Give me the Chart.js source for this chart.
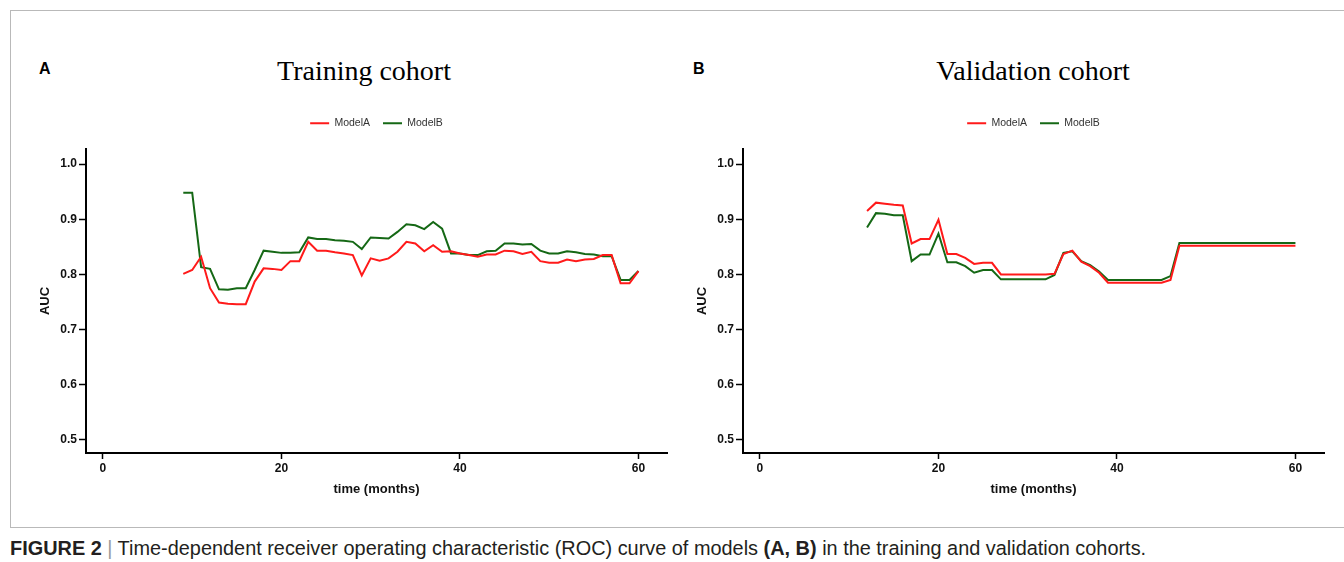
<!DOCTYPE html>
<html>
<head>
<meta charset="utf-8">
<script src="https://cdn.jsdelivr.net/npm/chart.js@4.4.0/dist/chart.umd.min.js"></script>
<style>
  body { margin: 0; width: 1344px; height: 562px; background: #fff; position: relative; overflow: hidden;
         font-family: "Liberation Sans", Arial, sans-serif; }
  .frame { position: absolute; left: 10px; top: 10px; width: 1340px; height: 516px;
           border: 1px solid #b9b9b9; border-right: none; }
  .letter { position: absolute; top: 61px; font: bold 16px/16px "Liberation Sans", Arial, sans-serif; color: #000; }
  .ptitle { position: absolute; top: 57px; width: 400px; text-align: center;
            font: 28px/28px "Liberation Serif", "Times New Roman", serif; color: #000; }
  .box { position: absolute; top: 40px; width: 680px; height: 470px; }
  .caption { position: absolute; left: 10px; top: 538px; font-size: 19.9px; line-height: 20px; color: #231f20; white-space: nowrap; }
  .caption .bar { color: #9a9a9a; }
</style>
</head>
<body>
<div class="frame"></div>
<div class="letter" style="left:39px">A</div>
<div class="letter" style="left:693px">B</div>
<div class="ptitle" style="left:164px">Training cohort</div>
<div class="ptitle" style="left:833px">Validation cohort</div>
<div class="box" style="left:0px"><canvas id="trainChart" width="680" height="470"></canvas></div>
<div class="box" style="left:657px"><canvas id="validChart" width="680" height="470"></canvas></div>
<div class="caption"><b>FIGURE 2</b> <span class="bar">|</span> Time-dependent receiver operating characteristic (ROC) curve of models <b>(A, B)</b> in the training and validation cohorts.</div>

<script>
// --- DATA ---
const seriesNames = ['ModelA', 'ModelB'];
const colorA = '#ff1a1a';
const colorB = '#156815';

// training cohort, months 9..60
const trainTimes = [9, 10, 11, 12, 13, 14, 15, 16, 17, 18, 19, 20, 21, 22, 23, 24, 25, 26, 27, 28,
  29, 30, 31, 32, 33, 34, 35, 36, 37, 38, 39, 40, 41, 42, 43, 44, 45, 46, 47, 48,
  49, 50, 51, 52, 53, 54, 55, 56, 57, 58, 59, 60];
const trainA = [0.801, 0.808, 0.832, 0.775, 0.749, 0.747, 0.746, 0.746, 0.787, 0.811, 0.810, 0.808, 0.824, 0.824, 0.859, 0.843, 0.843, 0.840, 0.838, 0.835,
  0.798, 0.829, 0.825, 0.829, 0.841, 0.859, 0.856, 0.842, 0.853, 0.841, 0.842, 0.838, 0.835, 0.832, 0.836, 0.836, 0.843, 0.842, 0.837, 0.841,
  0.824, 0.821, 0.821, 0.827, 0.824, 0.827, 0.828, 0.835, 0.835, 0.784, 0.784, 0.806];
const trainB = [0.948, 0.948, 0.813, 0.810, 0.773, 0.772, 0.775, 0.775, 0.808, 0.843, 0.841, 0.839, 0.839, 0.840, 0.867, 0.864, 0.864, 0.862, 0.861, 0.859,
  0.846, 0.867, 0.866, 0.865, 0.877, 0.891, 0.889, 0.882, 0.895, 0.883, 0.838, 0.838, 0.835, 0.835, 0.842, 0.843, 0.856, 0.856, 0.854, 0.855,
  0.843, 0.838, 0.838, 0.842, 0.840, 0.837, 0.836, 0.833, 0.833, 0.790, 0.790, 0.806];

// validation cohort, months 12..60
const validTimes = [12, 13, 14, 15, 16, 17, 18, 19, 20, 21, 22, 23, 24, 25, 26, 27, 28, 29, 30, 31,
  32, 33, 34, 35, 36, 37, 38, 39, 40, 41, 42, 43, 44, 45, 46, 47, 48, 49, 50, 51,
  52, 53, 54, 55, 56, 57, 58, 59, 60];
const validA = [0.915, 0.930, 0.928, 0.926, 0.925, 0.856, 0.864, 0.864, 0.899, 0.837, 0.837, 0.830, 0.819, 0.821, 0.821, 0.800, 0.800, 0.800, 0.800, 0.800,
  0.800, 0.801, 0.837, 0.843, 0.823, 0.815, 0.803, 0.785, 0.785, 0.785, 0.785, 0.785, 0.785, 0.785, 0.790, 0.852, 0.852, 0.852, 0.852, 0.852,
  0.852, 0.852, 0.852, 0.852, 0.852, 0.852, 0.852, 0.852, 0.852];
const validB = [0.885, 0.911, 0.910, 0.907, 0.907, 0.824, 0.836, 0.836, 0.874, 0.822, 0.822, 0.815, 0.803, 0.808, 0.808, 0.791, 0.791, 0.791, 0.791, 0.791,
  0.791, 0.799, 0.839, 0.842, 0.824, 0.817, 0.805, 0.790, 0.790, 0.790, 0.790, 0.790, 0.790, 0.790, 0.797, 0.857, 0.857, 0.857, 0.857, 0.857,
  0.857, 0.857, 0.857, 0.857, 0.857, 0.857, 0.857, 0.857, 0.857];

const xTicks = [0, 20, 40, 60];
const yTicks = [0.5, 0.6, 0.7, 0.8, 0.9, 1.0];

// --- CHART SETUP ---
const sans = '"Liberation Sans", Arial, sans-serif';

function makeChart(id, times, aucA, aucB) {
  const toPoints = vals => vals.map((v, i) => ({ x: times[i], y: v }));
  const line = (label, vals, color) => ({
    label: label,
    data: toPoints(vals),
    borderColor: color,
    backgroundColor: color,
    borderWidth: 2,
    pointRadius: 0,
    tension: 0
  });

  return new Chart(document.getElementById(id), {
    type: 'line',
    data: {
      datasets: [line(seriesNames[0], aucA, colorA), line(seriesNames[1], aucB, colorB)]
    },
    options: {
      responsive: false,
      animation: false,
      layout: { padding: { top: 65, right: 13, left: 0, bottom: 0 } },
      plugins: {
        tooltip: { enabled: false },
        legend: {
          fullSize: false,
          labels: {
            boxWidth: 19,
            boxHeight: 2,
            padding: 13,
            color: '#333',
            font: { family: sans, size: 10.5 },
            generateLabels: chart => chart.data.datasets.map((ds, i) => ({
              text: ds.label, fillStyle: ds.borderColor, strokeStyle: ds.borderColor,
              lineWidth: 0, hidden: false, datasetIndex: i, fontColor: '#333'
            }))
          }
        },
        // empty block: gap between legend and plot
        subtitle: {
          display: true, text: '', weight: 500, fullSize: false,
          font: { size: 1, lineHeight: 1 }, padding: { top: 0, bottom: 9.5 }
        }
      },
      scales: {
        x: {
          type: 'linear',
          min: -1.9,
          max: 63.2,
          afterFit: s => { s.height = 57; },
          afterBuildTicks: s => { s.ticks = xTicks.map(v => ({ value: v })); },
          border: { color: '#000', width: 2 },
          grid: { drawOnChartArea: false, tickLength: 6, color: '#000', tickWidth: 1.5 },
          ticks: { padding: 2, color: '#111', maxRotation: 0, font: { family: sans, size: 12, weight: 'bold' } },
          title: {
            display: true, text: 'time (months)', color: '#111',
            font: { family: sans, size: 13, weight: 'bold' }, padding: { top: 0, bottom: 13.2 }
          }
        },
        y: {
          min: 0.4764,
          max: 1.0272,
          afterFit: s => { s.width = 86; },
          afterBuildTicks: s => { s.ticks = yTicks.map(v => ({ value: v })); },
          border: { color: '#000', width: 2 },
          grid: { drawOnChartArea: false, tickLength: 7, color: '#000', tickWidth: 1.5 },
          ticks: {
            padding: 2, color: '#111', font: { family: sans, size: 12, weight: 'bold' },
            callback: v => v.toFixed(1)
          },
          title: {
            display: true, text: 'AUC', color: '#111',
            font: { family: sans, size: 13, weight: 'bold' }, padding: { top: 37.2, bottom: 0 }
          }
        }
      }
    }
  });
}

makeChart('trainChart', trainTimes, trainA, trainB);
makeChart('validChart', validTimes, validA, validB);
</script>
</body>
</html>
